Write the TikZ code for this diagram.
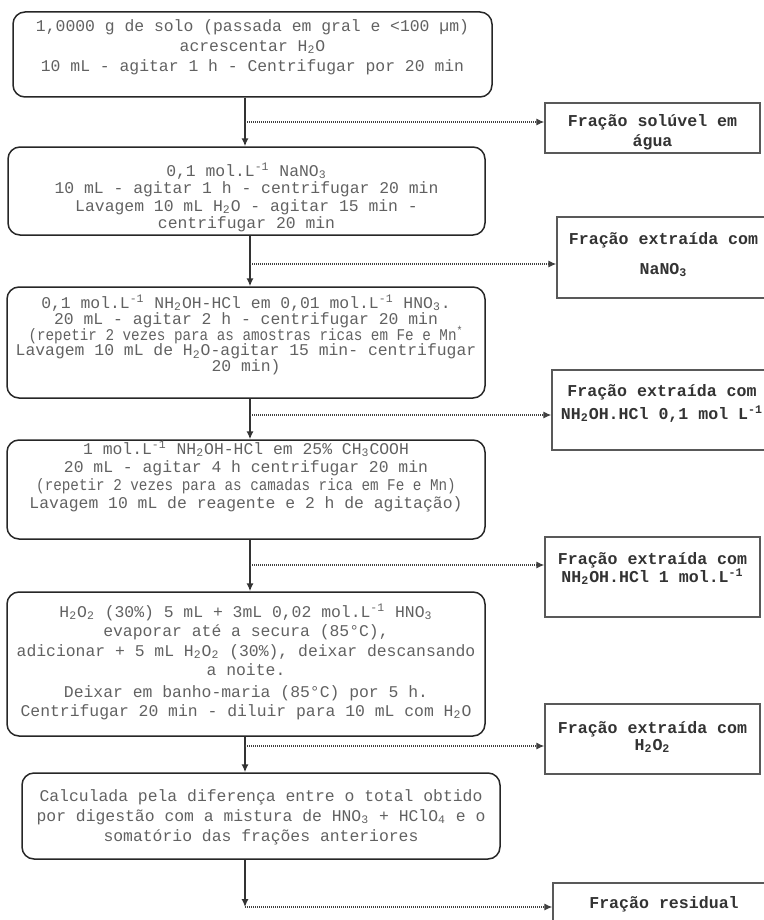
\documentclass[tikz,border=0pt]{standalone}
\usepackage{fontspec}
\setmonofont{Liberation Mono}
\usetikzlibrary{arrows.meta}

\begin{document}
\begin{tikzpicture}[x=0.5pt,y=-0.5pt,
  boxsty/.style={draw=black!85, line width=0.75pt, rounded corners=6pt, inner sep=0pt,
    align=center, text=black!62, font={\ttfamily\fontsize{8.2}{#1}\selectfont\lineskiplimit=-8pt}},
  fracsty/.style={draw=black!65, line width=0.75pt, inner sep=0pt, align=center, text=black!80,
    font={\ttfamily\bfseries\fontsize{8.3}{#1}\selectfont\lineskiplimit=-8pt}},
  flowsty/.style={-{Latex[length=4pt,width=3.6pt]}, line width=0.75pt, draw=black!80},
  dotsty/.style={-{Latex[length=4pt,width=3.6pt]}, line width=0.6pt,
    dash pattern=on 0.5pt off 0.5pt, draw=black!75}]

%%%%%%%%%%%  Making a helping grid %%%%%%%%%%%%%%%%%%%%%
% \draw[step=50,gray,very thin] (0,0) grid (764,920);
%%%%%%%%%%%%%%%%%%%%%%%%%%%%%%%%%%%%%%%%%%%%%%%%%%%%%%%

\useasboundingbox (0,0) rectangle (764,920);

% Left column: extraction steps

\node[boxsty=10, minimum width=239.5pt, minimum height=42.5pt, text height=27pt, text depth=10pt] (s1) at (252.5,54.5)
  {1,0000 g de solo (passada em gral e <100 µm)\\ acrescentar H\textsubscript{2}O\\
   10 mL - agitar 1 h - Centrifugar por 20 min};
\node[boxsty=8.65, minimum width=238.5pt, minimum height=44pt, text height=37.95pt, text depth=0.55pt] (s2) at (246.5,191)
  {0,1 mol.L\textsuperscript{-1} NaNO\textsubscript{3}\\ 10 mL - agitar 1 h - centrifugar 20 min\\
   Lavagem 10 mL H\textsubscript{2}O - agitar 15 min -\\ centrifugar 20 min};
\node[boxsty=7.9, minimum width=239pt, minimum height=55.5pt, text height=38.6pt, text depth=9.4pt] (s3) at (246,342.5)
  {0,1 mol.L\textsuperscript{-1} NH\textsubscript{2}OH-HCl em 0,01 mol.L\textsuperscript{-1} HNO\textsubscript{3}.\\
   20 mL - agitar 2 h - centrifugar 20 min\\
   \scalebox{0.87}[1]{(repetir 2 vezes para as amostras ricas em Fe e Mn\textsuperscript{*}}\\
   Lavagem 10 mL de H\textsubscript{2}O-agitar 15 min- centrifugar\\ 20 min)};
\node[boxsty=9, minimum width=239pt, minimum height=49.5pt, text height=34pt, text depth=15pt] (s4) at (246,489.5)
  {1 mol.L\textsuperscript{-1} NH\textsubscript{2}OH-HCl em 25\% CH\textsubscript{3}COOH\\
   20 mL - agitar 4 h centrifugar 20 min\\
   \scalebox{0.87}[1]{(repetir 2 vezes para as camadas rica em Fe e Mn)}\\
   Lavagem 10 mL de reagente e 2 h de agitação)};
\node[boxsty=9.7, minimum width=239pt, minimum height=72pt, text height=56.5pt, text depth=4pt] (s5) at (246,664)
  {H\textsubscript{2}O\textsubscript{2} (30\%) 5 mL + 3mL 0,02 mol.L\textsuperscript{-1} HNO\textsubscript{3}\\
   evaporar até a secura (85°C),\\
   adicionar + 5 mL H\textsubscript{2}O\textsubscript{2} (30\%), deixar descansando\\ a noite.\\[1pt]
   Deixar em banho-maria (85°C) por 5 h.\\
   Centrifugar 20 min - diluir para 10 mL com H\textsubscript{2}O};
\node[boxsty=10, minimum width=239pt, minimum height=43pt, text height=27pt, text depth=1.5pt] (s6) at (261,816)
  {Calculada pela diferença entre o total obtido\\
   por digestão com a mistura de HNO\textsubscript{3} + HClO\textsubscript{4} e o\\
   somatório das frações anteriores};

% Right column: fractions

\node[fracsty=10, minimum width=107.5pt, minimum height=25pt, text height=19pt, text depth=0.5pt] (f1) at (652.5,128)
  {Fração solúvel em\\ água};
\node[fracsty=10, minimum width=106.5pt, minimum height=40.5pt, text height=22pt, text depth=5pt] (f2) at (663.5,257.5)
  {Fração extraída com\\[5pt] NaNO\textsubscript{3}};
\node[fracsty=10, minimum width=110pt, minimum height=40pt, text height=18.5pt, text depth=9pt] (f3) at (662,410)
  {Fração extraída com\\[1.5pt] NH\textsubscript{2}OH.HCl 0,1 mol L\textsuperscript{-1}};
\node[fracsty=9, minimum width=107.5pt, minimum height=40pt, text height=16pt, text depth=10.5pt] (f4) at (652.5,577)
  {Fração extraída com\\ NH\textsubscript{2}OH.HCl 1 mol.L\textsuperscript{-1}};
\node[fracsty=8.5, minimum width=107.5pt, minimum height=35pt, text height=15.5pt, text depth=4pt] (f5) at (652.5,739)
  {Fração extraída com\\ H\textsubscript{2}O\textsubscript{2}};
\node[fracsty=10, minimum width=111pt, minimum height=23.5pt, text height=7pt, text depth=5pt] (f6) at (664,906.5)
  {Fração residual};

% Branch points
\coordinate (j1) at (245,122);
\coordinate (j2) at (250,264);
\coordinate (j3) at (250,415);
\coordinate (j4) at (250,565);
\coordinate (j5) at (245,746);
\coordinate (j6) at (245,907);

% Main flow
\draw[flowsty] (s1.south -| j1) -- (s2.north -| j1);
\draw[flowsty] (s2.south -| j2) -- (s3.north -| j2);
\draw[flowsty] (s3.south -| j3) -- (s4.north -| j3);
\draw[flowsty] (s4.south -| j4) -- (s5.north -| j4);
\draw[flowsty] (s5.south -| j5) -- (s6.north -| j5);
\draw[flowsty] (s6.south -| j6) -- (j6);

% Dotted branches to the fractions
\draw[dotsty] (j1) -- (f1.west |- j1);
\draw[dotsty] (j2) -- (f2.west |- j2);
\draw[dotsty] (j3) -- (f3.west |- j3);
\draw[dotsty] (j4) -- (f4.west |- j4);
\draw[dotsty] (j5) -- (f5.west |- j5);
\draw[dotsty] (j6) -- (f6.west |- j6);

\end{tikzpicture}
\end{document}
